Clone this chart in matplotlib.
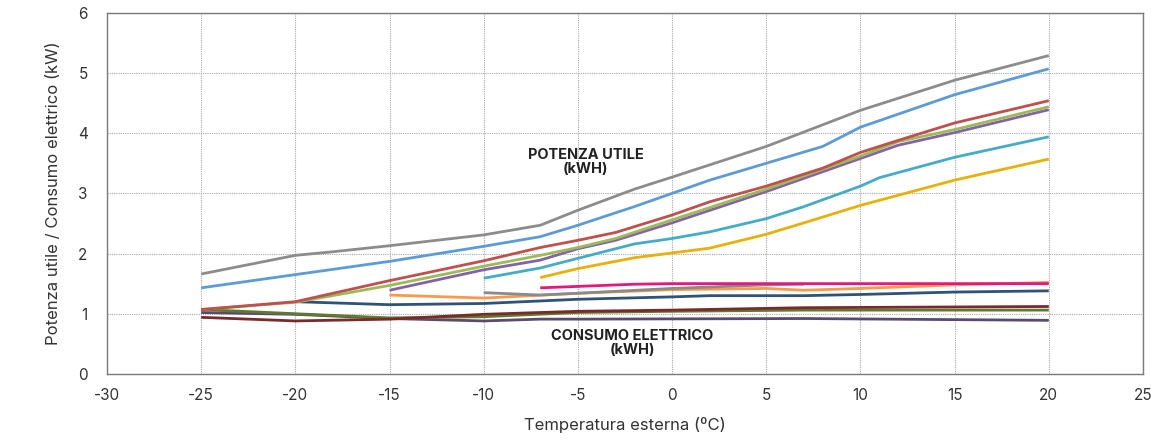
import matplotlib
matplotlib.use("Agg")
import matplotlib.pyplot as plt

plt.rcParams['font.family'] = ['Inter', 'DejaVu Sans']
plt.rcParams['axes.unicode_minus'] = False

# --- Potenza utile series ---
pu_gray_x = [-25, -20, -18, -15, -10, -7, -5, -2, 0, 5, 10, 15, 20]
pu_gray_y = [1.66, 1.97, 2.03, 2.13, 2.31, 2.47, 2.72, 3.07, 3.27, 3.78, 4.38, 4.88, 5.29]

pu_blue_x = [-25, -20, -15, -10, -7, -5, -2, 0, 2, 5, 8, 10, 15, 20]
pu_blue_y = [1.43, 1.65, 1.87, 2.12, 2.28, 2.47, 2.78, 3.0, 3.22, 3.5, 3.78, 4.1, 4.64, 5.07]

pu_red_x = [-25, -20, -15, -10, -7, -5, -3, 0, 2, 5, 8, 10, 12, 15, 20]
pu_red_y = [1.07, 1.20, 1.55, 1.88, 2.1, 2.22, 2.35, 2.64, 2.86, 3.12, 3.42, 3.68, 3.88, 4.17, 4.54]

pu_green_x = [-25, -20, -15, -10, -7, -5, -3, 0, 5, 10, 12, 15, 20]
pu_green_y = [1.07, 1.19, 1.47, 1.79, 1.97, 2.1, 2.25, 2.56, 3.07, 3.62, 3.86, 4.06, 4.44]

pu_purple_x = [-15, -10, -7, -5, -3, 0, 5, 10, 12, 15, 20]
pu_purple_y = [1.39, 1.73, 1.89, 2.08, 2.22, 2.51, 3.03, 3.58, 3.8, 4.01, 4.39]

pu_cyan_x = [-10, -7, -5, -2, 0, 2, 5, 7, 10, 11, 15, 20]
pu_cyan_y = [1.59, 1.76, 1.92, 2.16, 2.25, 2.36, 2.58, 2.78, 3.12, 3.26, 3.6, 3.94]

pu_yellow_x = [-7, -5, -2, 0, 2, 5, 7, 10, 15, 20]
pu_yellow_y = [1.60, 1.75, 1.93, 2.01, 2.09, 2.32, 2.51, 2.8, 3.22, 3.57]

# --- Consumo elettrico series ---
ce_pink_x = [-7, -2, 0, 5, 10, 15, 20]
ce_pink_y = [1.43, 1.49, 1.50, 1.50, 1.50, 1.50, 1.50]

ce_gray_x = [-10, -7, -5, 0, 5, 7]
ce_gray_y = [1.35, 1.31, 1.34, 1.42, 1.48, 1.49]

ce_orange_x = [-15, -10, -5, 0, 5, 7, 10, 15, 20]
ce_orange_y = [1.31, 1.26, 1.34, 1.40, 1.42, 1.39, 1.42, 1.48, 1.52]

ce_navy_x = [-20, -15, -10, -5, 0, 2, 7, 10, 15, 20]
ce_navy_y = [1.20, 1.15, 1.17, 1.24, 1.28, 1.30, 1.30, 1.32, 1.36, 1.38]

ce_maroon_x = [-25, -20, -15, -10, -5, 0, 7, 20]
ce_maroon_y = [0.94, 0.88, 0.91, 0.99, 1.04, 1.06, 1.10, 1.12]

ce_olive_x = [-25, -20, -15, -10, -5, 0, 7, 20]
ce_olive_y = [1.07, 1.00, 0.93, 0.95, 1.02, 1.04, 1.06, 1.06]

ce_dpurple_x = [-25, -20, -15, -10, -7, -5, 7, 20]
ce_dpurple_y = [1.02, 0.99, 0.92, 0.88, 0.91, 0.91, 0.92, 0.89]

fig = plt.figure(figsize=(11.51, 4.43), dpi=100)
ax = fig.add_axes([0.093, 0.156, 0.900, 0.815])

lw = 2.0
series = [
    (ce_dpurple_x, ce_dpurple_y, '#5a4a6e'),
    (ce_olive_x, ce_olive_y, '#5f7a2e'),
    (ce_maroon_x, ce_maroon_y, '#7a2a2a'),
    (ce_navy_x, ce_navy_y, '#2f527a'),
    (ce_orange_x, ce_orange_y, '#f79a4a'),
    (ce_gray_x, ce_gray_y, '#8a8a8a'),
    (ce_pink_x, ce_pink_y, '#e6157f'),
    (pu_yellow_x, pu_yellow_y, '#e8b10a'),
    (pu_cyan_x, pu_cyan_y, '#45acc8'),
    (pu_purple_x, pu_purple_y, '#8462a8'),
    (pu_green_x, pu_green_y, '#9bbb59'),
    (pu_red_x, pu_red_y, '#c0504d'),
    (pu_blue_x, pu_blue_y, '#5b9bd8'),
    (pu_gray_x, pu_gray_y, '#8c8c8c'),
]
for xs, ys, c in series:
    ax.plot(xs, ys, color=c, lw=lw, solid_capstyle='butt', zorder=3)

ax.set_xlim(-30, 25)
ax.set_ylim(0, 6)
ax.set_xticks(range(-30, 26, 5))
ax.set_yticks(range(0, 7))
ax.grid(True, color='#a8a8a8', linestyle=(0, (1, 1)), linewidth=0.8, zorder=0)
for s in ax.spines.values():
    s.set_color('#7a7a7a')
    s.set_linewidth(1.0)
ax.tick_params(length=0, labelsize=11, labelcolor='#333333', pad=10)
ax.tick_params(axis='y', pad=14)

ax.set_xlabel('Temperatura esterna (ºC)', fontsize=12, color='#333333', labelpad=10)
ax.set_ylabel('Potenza utile / Consumo elettrico (kW)', fontsize=12, color='#333333', labelpad=12)

ax.text(-4.6, 3.52, 'POTENZA UTILE\n(kWH)', ha='center', va='center', fontsize=10.5,
        fontweight='bold', color='#222222', linespacing=1.0, zorder=4)
ax.text(-2.1, 0.52, 'CONSUMO ELETTRICO\n(kWH)', ha='center', va='center', fontsize=10.5,
        fontweight='bold', color='#222222', linespacing=1.0, zorder=4)

fig.savefig('out.png', dpi=100)
